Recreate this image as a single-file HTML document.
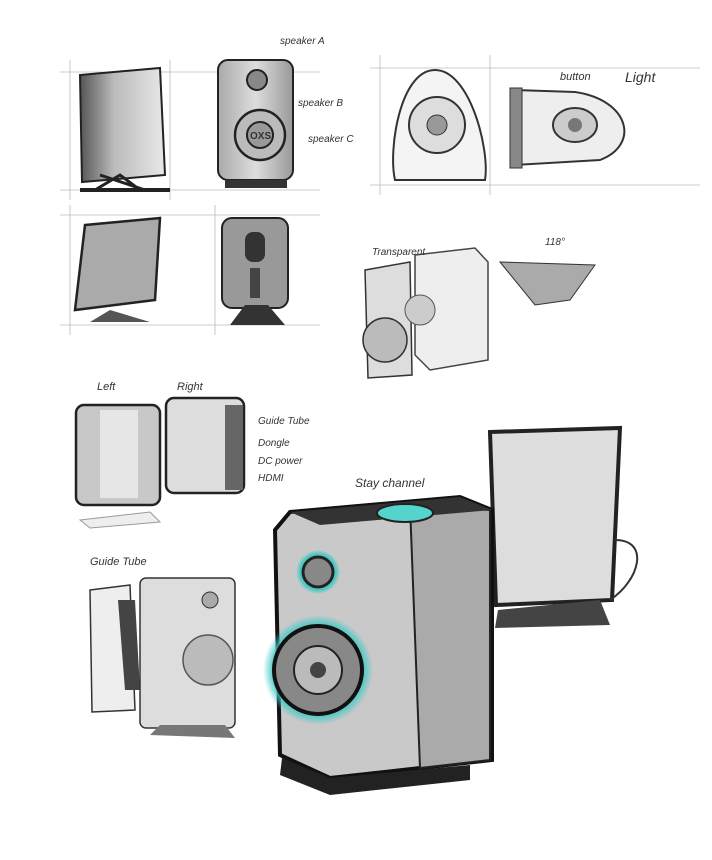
<!DOCTYPE html>
<html><head><meta charset="utf-8"><style>
html,body{margin:0;padding:0;background:#fff;}
svg{display:block;}
text{font-family:"Liberation Sans",sans-serif;fill:#333;font-style:italic;}
</style></head><body>
<svg width="712" height="860" viewBox="0 0 712 860" xmlns="http://www.w3.org/2000/svg">
<defs>
<linearGradient id="g1" x1="0" x2="1"><stop offset="0" stop-color="#555"/><stop offset="0.4" stop-color="#bbb"/><stop offset="1" stop-color="#e8e8e8"/></linearGradient>
<linearGradient id="g2" x1="0" x2="1"><stop offset="0" stop-color="#aaa"/><stop offset="0.5" stop-color="#ddd"/><stop offset="1" stop-color="#999"/></linearGradient>
<radialGradient id="cy"><stop offset="0.6" stop-color="#4fd6d0" stop-opacity="0"/><stop offset="0.8" stop-color="#3cc9c4"/><stop offset="1" stop-color="#3cc9c4" stop-opacity="0"/></radialGradient>
</defs>
<g stroke="#bbb" stroke-width="0.8" fill="none">
<line x1="60" y1="72" x2="320" y2="72"/><line x1="60" y1="190" x2="320" y2="190"/>
<line x1="70" y1="60" x2="70" y2="200"/><line x1="170" y1="60" x2="170" y2="200"/>
<line x1="60" y1="215" x2="320" y2="215"/><line x1="60" y1="325" x2="320" y2="325"/>
<line x1="70" y1="205" x2="70" y2="335"/><line x1="215" y1="205" x2="215" y2="335"/>
<line x1="370" y1="68" x2="700" y2="68"/><line x1="370" y1="185" x2="700" y2="185"/>
<line x1="380" y1="55" x2="380" y2="195"/><line x1="490" y1="55" x2="490" y2="195"/>
</g>
<!-- monitor side -->
<path d="M80 75 L160 68 L165 175 L82 182 Z" fill="url(#g1)" stroke="#222" stroke-width="2"/>
<path d="M95 190 L120 175 L140 190 M100 175 L145 190" stroke="#222" stroke-width="3" fill="none"/>
<line x1="80" y1="190" x2="170" y2="190" stroke="#222" stroke-width="4"/>
<!-- speaker front -->
<rect x="218" y="60" width="75" height="120" rx="10" fill="url(#g2)" stroke="#222" stroke-width="2"/>
<circle cx="257" cy="80" r="10" fill="#888" stroke="#222" stroke-width="2"/>
<circle cx="260" cy="135" r="25" fill="#bbb" stroke="#222" stroke-width="2.5"/>
<circle cx="260" cy="135" r="13" fill="#999" stroke="#222" stroke-width="2"/>
<text x="250" y="139" font-size="10" font-weight="bold" style="font-style:normal">OXS</text>
<rect x="225" y="180" width="62" height="8" fill="#333"/>
<text x="280" y="44" font-size="10">speaker A</text>
<text x="298" y="106" font-size="10">speaker B</text>
<text x="308" y="142" font-size="10">speaker C</text>
<!-- egg front -->
<path d="M435 70 C470 70 490 150 485 180 L395 180 C388 150 400 70 435 70 Z" fill="#f4f4f4" stroke="#333" stroke-width="2"/>
<circle cx="437" cy="125" r="28" fill="#ddd" stroke="#333" stroke-width="2"/>
<circle cx="437" cy="125" r="10" fill="#999" stroke="#333"/>
<!-- egg side -->
<path d="M515 90 L575 92 C630 100 640 145 600 160 L515 165 Z" fill="#eee" stroke="#333" stroke-width="2"/>
<rect x="510" y="88" width="12" height="80" fill="#888" stroke="#333"/>
<ellipse cx="575" cy="125" rx="22" ry="17" fill="#ccc" stroke="#333" stroke-width="2"/>
<circle cx="575" cy="125" r="7" fill="#777"/>
<text x="560" y="80" font-size="11">button</text>
<text x="625" y="82" font-size="14">Light</text>
<!-- row 2 -->
<path d="M85 225 L160 218 L155 300 L75 310 Z" fill="#aaa" stroke="#222" stroke-width="2.5"/>
<path d="M90 322 L110 310 L150 322 Z" fill="#555"/>
<rect x="222" y="218" width="66" height="90" rx="10" fill="#999" stroke="#222" stroke-width="2"/>
<rect x="245" y="232" width="20" height="30" rx="8" fill="#333"/>
<rect x="250" y="268" width="10" height="30" fill="#444"/>
<path d="M230 325 L245 305 L268 305 L285 325 Z" fill="#333"/>
<!-- 3D middle -->
<path d="M415 255 L475 248 L488 262 L488 360 L430 370 L415 355 Z" fill="#eee" stroke="#444" stroke-width="1.5"/>
<path d="M365 270 L410 262 L412 375 L368 378 Z" fill="#ddd" stroke="#333" stroke-width="1.5"/>
<circle cx="385" cy="340" r="22" fill="#bbb" stroke="#333" stroke-width="1.5"/>
<circle cx="420" cy="310" r="15" fill="#ccc" stroke="#555"/>
<path d="M500 262 L595 265 L570 300 L535 305 Z" fill="#aaa" stroke="#333"/>
<text x="372" y="255" font-size="10">Transparent</text>
<text x="545" y="245" font-size="10">118°</text>
<!-- row 3 -->
<rect x="76" y="405" width="84" height="100" rx="8" fill="#c8c8c8" stroke="#222" stroke-width="2.5"/>
<rect x="100" y="410" width="38" height="88" fill="#e6e6e6"/>
<rect x="166" y="398" width="78" height="95" rx="8" fill="#ddd" stroke="#222" stroke-width="2.5"/>
<rect x="225" y="405" width="18" height="85" fill="#666"/>
<text x="97" y="390" font-size="11">Left</text>
<text x="177" y="390" font-size="11">Right</text>
<text x="258" y="424" font-size="10">Guide Tube</text>
<text x="258" y="446" font-size="10">Dongle</text>
<text x="258" y="464" font-size="10">DC power</text>
<text x="258" y="481" font-size="10">HDMI</text>
<path d="M80 520 L150 512 L160 522 L90 528 Z" fill="#eee" stroke="#999"/>
<!-- bottom-left speaker -->
<path d="M90 590 L130 585 L135 710 L92 712 Z" fill="#eee" stroke="#333" stroke-width="1.5"/>
<path d="M118 600 L135 600 L140 690 L125 690 Z" fill="#444"/>
<rect x="140" y="578" width="95" height="150" rx="6" fill="#ddd" stroke="#333" stroke-width="1.5"/>
<circle cx="210" cy="600" r="8" fill="#aaa" stroke="#333"/>
<circle cx="208" cy="660" r="25" fill="#bbb" stroke="#555" stroke-width="1.5"/>
<path d="M150 735 L160 725 L225 725 L235 738 Z" fill="#777"/>
<text x="90" y="565" font-size="11">Guide Tube</text>
<!-- big monitor -->
<path d="M490 432 L620 428 L612 600 L496 605 Z" fill="#ddd" stroke="#222" stroke-width="4"/>
<path d="M498 610 L600 600 L610 625 L495 628 Z" fill="#444"/>
<path d="M615 540 C650 540 640 580 610 600" stroke="#333" stroke-width="2" fill="none"/>
<!-- big speaker -->
<path d="M290 512 L460 497 L492 510 L492 760 L330 778 L280 755 L275 530 Z" fill="#c9c9c9" stroke="#111" stroke-width="4"/>
<path d="M410 505 L490 510 L490 760 L420 768 Z" fill="#aaa" stroke="#222" stroke-width="2"/>
<path d="M290 512 L460 497 L492 510 L320 525 Z" fill="#333"/>
<ellipse cx="405" cy="513" rx="28" ry="9" fill="#55d4ce" stroke="#222" stroke-width="2"/>
<circle cx="318" cy="572" r="22" fill="url(#cy)"/>
<circle cx="318" cy="572" r="15" fill="#888" stroke="#222" stroke-width="3"/>
<circle cx="318" cy="670" r="55" fill="url(#cy)"/>
<circle cx="318" cy="670" r="44" fill="#888" stroke="#111" stroke-width="4"/>
<circle cx="318" cy="670" r="24" fill="#bbb" stroke="#222" stroke-width="2"/>
<circle cx="318" cy="670" r="8" fill="#444"/>
<path d="M280 775 L330 795 L470 780 L470 765 L330 778 L282 758 Z" fill="#222"/>
<text x="355" y="487" font-size="12">Stay channel</text>
</svg>
</body></html>
